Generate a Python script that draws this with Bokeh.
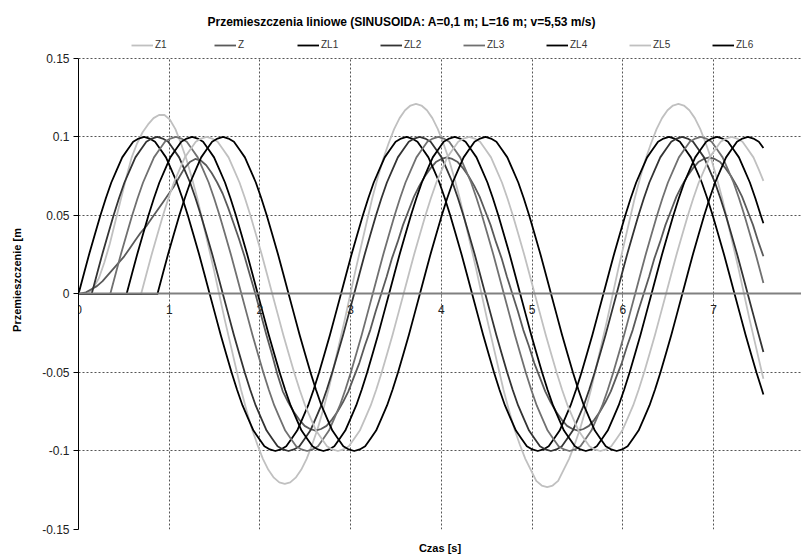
from bokeh.plotting import figure
from bokeh.models import Range1d, LinearAxis, FixedTicker, Legend, LegendItem, Grid
from bokeh.embed import file_html
from bokeh.resources import INLINE

# ---------------- texts ----------------
TITLE = "Przemieszczenia liniowe (SINUSOIDA: A=0,1 m; L=16 m;  v=5,53 m/s)"
X_LABEL = "Czas [s]"
Y_LABEL = "Przemieszczenie [m"

# ---------------- axes ----------------
X_TICKS = [0, 1, 2, 3, 4, 5, 6, 7]
X_TICK_LABELS = ["0", "1", "2", "3", "4", "5", "6", "7"]
Y_TICKS = [-0.15, -0.1, -0.05, 0, 0.05, 0.1, 0.15]
Y_TICK_LABELS = ["-0.15", "-0.1", "-0.05", "0", "0.05", "0.1", "0.15"]

# ---------------- data (displacements in mm) ----------------
# each series: 0 at t=0, then one sample every SAMPLE_STEP s from its start time;
# the last value of each list is the value at END_TIME
SAMPLE_STEP = 0.060271
END_TIME = 7.55
SERIES_NAMES = ["Z1", "Z", "ZL1", "ZL2", "ZL3", "ZL4", "ZL5", "ZL6"]
START_TIMES = [0.104, 0.082, 0.0, 0.145, 0.35, 0.53, 0.69, 0.87]

Z1_MM = [0,4,10,20,32,46,60,74,87,96,103,108,112,114,114,111,105,96,
         86,74,61,46,31,16,
         0,-16,-31,-46,-61,-74,-86,-96,-105,-112,-117,-120,-121,-120,-117,-112,-105,-96,-86,-74,-61,-46,-31,-16,
         0,16,31,46,61,74,86,96,105,112,117,120,121,120,117,112,105,96,86,74,61,46,31,16,
         0,-16,-31,-46,-61,-74,-86,-96,-105,-112,-119,-122,-123,-122,-119,-112,-105,-96,-86,-74,-61,-46,-31,-16,
         0,16,31,46,61,74,86,96,105,112,117,120,121,120,117,112,105,96,86,74,61,46,31,16,
         0,-16,-31,-46,
         -54]

Z_MM = [1,3,5,8,12,16,20,24,29,34,39,43,48,53,58,63,68,74,80,84,86,85,82,77,71,64,55,45,35,24,12,0,-13,-26,-38,-51,
        -62,-69,-75,-80,-84,-86,-87,-86,-84,-80,-75,-69,-62,-53,-44,-33,-23,-11,
        0,11,23,33,44,53,62,69,75,80,84,86,87,86,84,80,75,69,62,53,44,33,23,11,
        0,-11,-23,-33,-44,-53,-62,-69,-75,-80,-84,-86,-87,-86,-84,-80,-75,-69,-62,-53,-44,-33,-23,-11,
        0,11,23,33,44,53,62,69,75,80,84,86,87,86,84,80,75,69,62,53,44,33,
        24]

ZL1_MM = [0,13,26,38,50,61,71,79,87,92,97,99,100,99,97,92,87,79,71,61,50,38,26,13,
          0,-13,-26,-38,-50,-61,-71,-79,-87,-92,-97,-99,-100,-99,-97,-92,-87,-79,-71,-61,-50,-38,-26,-13,
          0,13,26,38,50,61,71,79,87,92,97,99,100,99,97,92,87,79,71,61,50,38,26,13,
          0,-13,-26,-38,-50,-61,-71,-79,-87,-92,-97,-99,-100,-99,-97,-92,-87,-79,-71,-61,-50,-38,-26,-13,
          0,13,26,38,50,61,71,79,87,92,97,99,100,99,97,92,87,79,71,61,50,38,26,13,
          0,-13,-26,-38,-50,-61,
          -64]

ZL2_MM = [0,13,26,38,50,61,71,79,87,92,97,99,100,99,97,92,87,79,71,61,50,38,26,13,
          0,-13,-26,-38,-50,-61,-71,-79,-87,-92,-97,-99,-100,-99,-97,-92,-87,-79,-71,-61,-50,-38,-26,-13,
          0,13,26,38,50,61,71,79,87,92,97,99,100,99,97,92,87,79,71,61,50,38,26,13,
          0,-13,-26,-38,-50,-61,-71,-79,-87,-92,-97,-99,-100,-99,-97,-92,-87,-79,-71,-61,-50,-38,-26,-13,
          0,13,26,38,50,61,71,79,87,92,97,99,100,99,97,92,87,79,71,61,50,38,26,13,
          0,-13,-26,
          -37]

ZL3_MM = [0,13,26,38,50,61,71,79,87,92,97,99,100,99,97,92,87,79,71,61,50,38,26,13,
          0,-13,-26,-38,-50,-61,-71,-79,-87,-92,-97,-99,-100,-99,-97,-92,-87,-79,-71,-61,-50,-38,-26,-13,
          0,13,26,38,50,61,71,79,87,92,97,99,100,99,97,92,87,79,71,61,50,38,26,13,
          0,-13,-26,-38,-50,-61,-71,-79,-87,-92,-97,-99,-100,-99,-97,-92,-87,-79,-71,-61,-50,-38,-26,-13,
          0,13,26,38,50,61,71,79,87,92,97,99,100,99,97,92,87,79,71,61,50,38,26,13,
          7]

ZL4_MM = [0,13,26,38,50,61,71,79,87,92,97,99,100,99,97,92,87,79,71,61,50,38,26,13,
          0,-13,-26,-38,-50,-61,-71,-79,-87,-92,-97,-99,-100,-99,-97,-92,-87,-79,-71,-61,-50,-38,-26,-13,
          0,13,26,38,50,61,71,79,87,92,97,99,100,99,97,92,87,79,71,61,50,38,26,13,
          0,-13,-26,-38,-50,-61,-71,-79,-87,-92,-97,-99,-100,-99,-97,-92,-87,-79,-71,-61,-50,-38,-26,-13,
          0,13,26,38,50,61,71,79,87,92,97,99,100,99,97,92,87,79,71,61,50,
          45]

ZL5_MM = [0,13,26,38,50,61,71,79,87,92,97,99,100,99,97,92,87,79,71,61,50,38,26,13,
          0,-13,-26,-38,-50,-61,-71,-79,-87,-92,-97,-99,-100,-99,-97,-92,-87,-79,-71,-61,-50,-38,-26,-13,
          0,13,26,38,50,61,71,79,87,92,97,99,100,99,97,92,87,79,71,61,50,38,26,13,
          0,-13,-26,-38,-50,-61,-71,-79,-87,-92,-97,-99,-100,-99,-97,-92,-87,-79,-71,-61,-50,-38,-26,-13,
          0,13,26,38,50,61,71,79,87,92,97,99,100,99,97,92,87,79,
          72]

ZL6_MM = [0,13,26,38,50,61,71,79,87,92,97,99,100,99,97,92,87,79,71,61,50,38,26,13,
          0,-13,-26,-38,-50,-61,-71,-79,-87,-92,-97,-99,-100,-99,-97,-92,-87,-79,-71,-61,-50,-38,-26,-13,
          0,13,26,38,50,61,71,79,87,92,97,99,100,99,97,92,87,79,71,61,50,38,26,13,
          0,-13,-26,-38,-50,-61,-71,-79,-87,-92,-97,-99,-100,-99,-97,-92,-87,-79,-71,-61,-50,-38,-26,-13,
          0,13,26,38,50,61,71,79,87,92,97,99,100,99,97,
          93]

SERIES_VALUES_MM = [Z1_MM, Z_MM, ZL1_MM, ZL2_MM, ZL3_MM, ZL4_MM, ZL5_MM, ZL6_MM]

# ---------------- styles / layout ----------------
SERIES_COLORS = ["#c0c0c0", "#5a5a5a", "#000000", "#333333",
                 "#707070", "#000000", "#c0c0c0", "#000000"]
FONT = "Liberation Sans"
Y_MIN, Y_MAX = Y_TICKS[0], Y_TICKS[-1]
Y_TOP_ROOM = 0.0178   # space above 0.15 inside the frame for the legend row

p = figure(width=801, height=558, output_backend="svg", toolbar_location=None,
           x_range=Range1d(0, 7.97), y_range=Range1d(Y_MIN, Y_MAX + Y_TOP_ROOM),
           x_axis_type=None, min_border_left=78, min_border_right=0,
           min_border_top=30, min_border_bottom=29)
p.outline_line_color = None
p.background_fill_color = "white"
p.border_fill_color = "white"

# title
p.title.text = TITLE
p.title.text_font = FONT
p.title.text_font_size = "12px"
p.title.text_font_style = "bold"
p.title.text_color = "#000000"
p.title.align = "left"
p.title.offset = 129
p.title.standoff = 4

# grids
p.ygrid.ticker = FixedTicker(ticks=Y_TICKS)
p.ygrid.grid_line_color = "#555555"
p.ygrid.grid_line_dash = "2 2"
p.ygrid.grid_line_width = 1
xgrid = Grid(dimension=0, ticker=FixedTicker(ticks=X_TICKS[1:]),
             grid_line_color="#555555", grid_line_dash="2 2", grid_line_width=1)
if "cross_bounds" in Grid.properties():
    xgrid.cross_bounds = (Y_MIN, Y_MAX)
    p.add_layout(xgrid)
else:
    p.segment(x0=X_TICKS[1:], x1=X_TICKS[1:], y0=[Y_MIN] * 7, y1=[Y_MAX] * 7,
              line_color="#555555", line_dash="2 2", line_width=1)

# y axis
yax = p.yaxis[0]
yax.bounds = (Y_MIN, Y_MAX)
yax.ticker = FixedTicker(ticks=Y_TICKS)
yax.major_label_overrides = {t: l for t, l in zip(Y_TICKS, Y_TICK_LABELS)}
yax.axis_line_color = "black"
yax.major_tick_line_color = "black"
yax.major_tick_in = 0
yax.major_tick_out = 5
yax.minor_tick_line_color = None
yax.major_label_text_font = FONT
yax.major_label_text_font_size = "12px"
yax.major_label_text_color = "#222222"
yax.major_label_standoff = 4
yax.axis_label = Y_LABEL
yax.axis_label_text_font = FONT
yax.axis_label_text_font_size = "11px"
yax.axis_label_text_font_style = "bold"
yax.axis_label_text_color = "black"
yax.axis_label_standoff = 16

# x axis at y = 0
xax = LinearAxis(fixed_location=0, ticker=FixedTicker(ticks=X_TICKS),
                 major_label_overrides={t: l for t, l in zip(X_TICKS, X_TICK_LABELS)},
                 axis_line_color="#808080", axis_line_width=2,
                 major_tick_line_color="#808080", major_tick_in=0, major_tick_out=4,
                 minor_tick_line_color=None,
                 major_label_text_font=FONT, major_label_text_font_size="12px",
                 major_label_text_color="#222222", major_label_standoff=7)
p.add_layout(xax, "below")

# x axis label at the bottom
xlab = LinearAxis(ticker=FixedTicker(ticks=[]), axis_line_color=None,
                  major_tick_line_color=None, minor_tick_line_color=None,
                  major_label_text_font_size="0px",
                  axis_label=X_LABEL, axis_label_text_font=FONT,
                  axis_label_text_font_size="11px", axis_label_text_font_style="bold",
                  axis_label_text_color="black", axis_label_standoff=12)
p.add_layout(xlab, "below")

# series
items = []
for name, start, vals, col in zip(SERIES_NAMES, START_TIMES, SERIES_VALUES_MM, SERIES_COLORS):
    xs = [0.0] + [start + k * SAMPLE_STEP for k in range(len(vals) - 1)] + [END_TIME]
    ys = [0.0] + [v / 1000.0 for v in vals]
    r = p.line(xs, ys, line_color=col, line_width=1.8, line_join="round")
    items.append(LegendItem(label=name, renderers=[r]))

legend = Legend(items=items, orientation="horizontal", location=(53, 479),
                glyph_width=22, glyph_height=10, label_standoff=2, spacing=39,
                padding=0, margin=0, border_line_color=None, background_fill_alpha=0,
                label_text_font=FONT, label_text_font_size="10px",
                label_text_color="#333333")
p.add_layout(legend)

open("out.html", "w").write(file_html(p, INLINE))
